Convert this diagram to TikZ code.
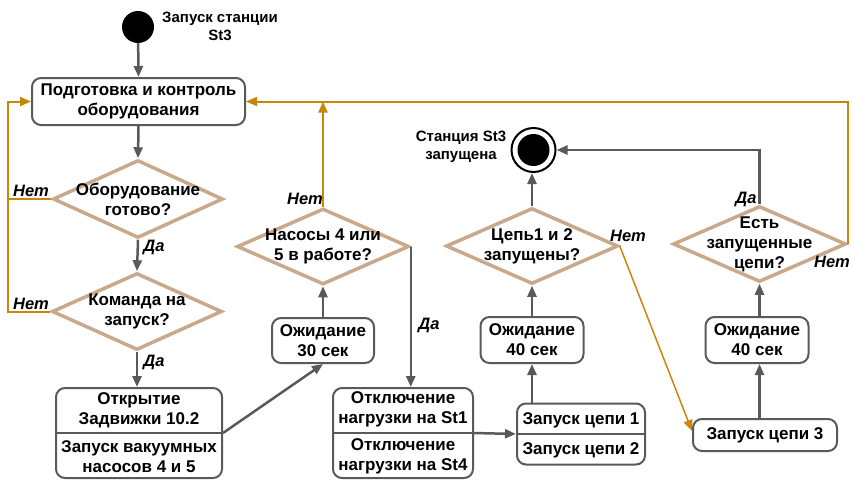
\documentclass[tikz,border=0pt]{standalone}
\usepackage{fontspec}
\setmainfont{Liberation Sans}
\usetikzlibrary{shapes.geometric,arrows.meta}
\definecolor{gline}{HTML}{595959}
\definecolor{myTan}{HTML}{C9A98C}
\definecolor{orng}{HTML}{C8870A}
\begin{document}
\begin{tikzpicture}[x=1pt,y=-1pt,
  box/.style={draw=gline, line width=2pt, rounded corners=9pt, inner sep=0pt, align=center, font=\fontsize{17}{20}\selectfont\bfseries},
  plain/.style={draw=gline, line width=2pt, rounded corners=9pt, inner sep=0pt},
  dia/.style={diamond, draw=myTan, line width=3.5pt, inner sep=0pt},
  txt/.style={font=\fontsize{17}{20}\selectfont\bfseries, align=center, inner sep=0pt},
  lbl/.style={font=\fontsize{16.5}{18}\selectfont\bfseries\itshape, inner sep=0pt},
  small/.style={font=\fontsize{15}{18}\selectfont\bfseries, align=center, inner sep=0pt},
  garr/.style={draw=gline, line width=2.5pt, -{Triangle[length=11pt,width=9pt]}},
  oarr/.style={draw=orng, line width=2pt, -{Triangle[length=11pt,width=9pt]}},
  oline/.style={draw=orng, line width=2pt},
]
\useasboundingbox (0,0) rectangle (853,479);

% start / end
\node[circle, fill=black, minimum size=32pt, inner sep=0pt] (st) at (138,27) {};
\node[small] (stl) at (220,26) {Запуск станции\\St3};
\node[circle, draw=black, line width=2pt, minimum size=44pt, inner sep=0pt] (end) at (533.5,150) {};
\node[circle, fill=black, minimum size=32pt, inner sep=0pt] (endi) at (end) {};
\node[small] (endl) at (461,147) {Станция St3\\запущена};

% boxes
\node[box, minimum width=213pt, minimum height=47pt] (b1) at (138.5,101.5) {Подготовка и контроль\\оборудования};
\node[box, minimum width=102pt, minimum height=45pt] (w30) at (323,340.5) {Ожидание\\30 сек};
\node[box, minimum width=103pt, minimum height=46pt] (w40a) at (532,340) {Ожидание\\40 сек};
\node[box, minimum width=103pt, minimum height=46pt] (w40b) at (757,340) {Ожидание\\40 сек};
\node[box, minimum width=144pt, minimum height=32pt] (zc3) at (765,435) {Запуск цепи 3};

% split boxes
\node[plain, minimum width=166pt, minimum height=90pt] (s1) at (139,433) {};
\draw[gline, line width=2pt] (s1.west) -- (s1.east);
\node[txt] (s1a) at (139,410.5) {Открытие\\Задвижки 10.2};
\node[txt] (s1b) at (139,457) {Запуск вакуумных\\насосов 4 и 5};

\node[plain, minimum width=140pt, minimum height=90pt] (s2) at (403,433) {};
\draw[gline, line width=2pt] (s2.west) -- (s2.east);
\node[txt] (s2a) at (403,409.5) {Отключение\\нагрузки на St1};
\node[txt] (s2b) at (403,456) {Отключение\\нагрузки на St4};

\node[plain, minimum width=128pt, minimum height=61pt] (s3) at (581,434) {};
\draw[gline, line width=2pt] (s3.west) -- (s3.east);
\node[txt] (s3a) at (581,420) {Запуск цепи 1};
\node[txt] (s3b) at (581,450) {Запуск цепи 2};

% diamonds
\node[dia, minimum width=170pt, minimum height=78pt] (d1) at (138,199) {};
\node[txt] (d1t) at (d1) {Оборудование\\готово?};
\node[dia, minimum width=170pt, minimum height=77pt] (d2) at (137,311.5) {};
\node[txt] (d2t) at (d2) {Команда на\\запуск?};
\node[dia, minimum width=172pt, minimum height=76pt] (d3) at (323,246.5) {};
\node[txt] (d3t) at (d3) {Насосы 4 или\\5 в работе?};
\node[dia, minimum width=172pt, minimum height=76pt] (d4) at (532,246) {};
\node[txt] (d4t) at (d4) {Цепь1 и 2\\запущены?};
\node[dia, minimum width=173pt, minimum height=76pt] (d5) at (759.5,244) {};
\node[txt] (d5t) at (d5) {Есть\\запущенные\\цепи?};

% gray connectors
\draw[garr] (st) -- (b1.north);
\draw[garr] (b1.south) -- (d1.north);
\draw[garr] (d1.south) -- (d2.north);
\draw[garr] (d2.south) -- (d2.south |- s1.north);
\draw[garr] (s1.east) -- (w30.south);
\draw[garr] (w30.north) -- (d3.south);
\draw[garr] (d3.east) -- (d3.east |- s2.north);
\draw[garr] (s2.east) -- (s3.west);
\draw[garr] (s3.north -| w40a) -- (w40a.south);
\draw[garr] (w40a.north) -- (d4.south);
\draw[garr] (d4.north) -- (d4.north |- end.south);
\draw[garr] (zc3.north -| d5) -- (w40b.south -| d5);
\draw[garr] (w40b.north -| d5) -- (d5.south);
\draw[garr] (d5.north) |- (end.east);

% orange connectors
\coordinate (L) at (8,101.5);
\draw[oarr] (d1.west) -| (L) -- (b1.west);
\draw[oline] (d2.west) -| (L);
\draw[oarr] (d5.east) |- (b1.east);
\draw[oarr] (d3.north) -- (d3.north |- b1.east);
\draw[oarr, line width=1.5pt] (d4.east) -- ([yshift=4pt]zc3.west);

% labels
\node[lbl] (n1) at (31,191) {Нет};
\node[lbl] (n2) at (31,304) {Нет};
\node[lbl] (y1) at (154,247) {Да};
\node[lbl] (y2) at (154,362) {Да};
\node[lbl] (n3) at (305,199) {Нет};
\node[lbl] (y3) at (429,325) {Да};
\node[lbl] (n4) at (628,236) {Нет};
\node[lbl] (y5) at (746,199) {Да};
\node[lbl] (n5) at (832,262) {Нет};
\end{tikzpicture}
\end{document}
